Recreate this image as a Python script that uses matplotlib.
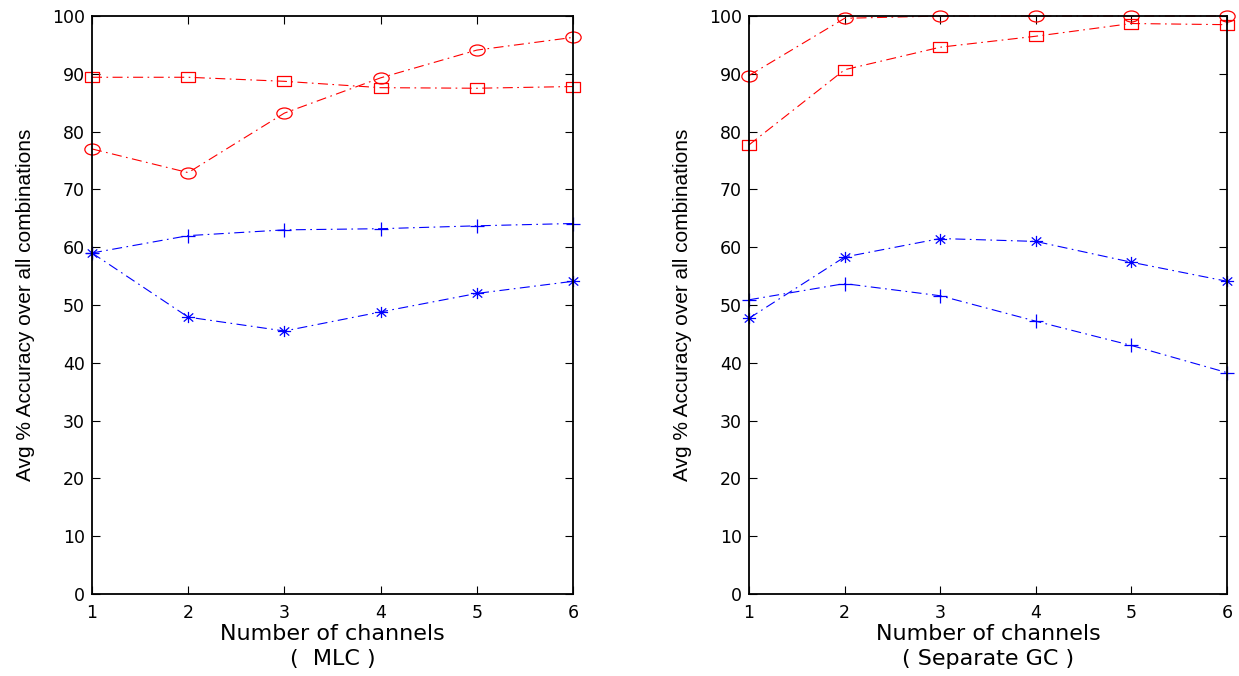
import matplotlib
matplotlib.use("Agg")
import matplotlib.pyplot as plt
from matplotlib.path import Path
import numpy as np

channels = [1, 2, 3, 4, 5, 6]

# Left panel (MLC)
mlc_circle = [77.0, 72.9, 83.2, 89.3, 94.1, 96.3]
mlc_square = [89.4, 89.4, 88.7, 87.6, 87.5, 87.8]
mlc_plus = [59.0, 62.0, 63.0, 63.2, 63.7, 64.1]
mlc_star = [59.0, 47.9, 45.5, 48.8, 52.0, 54.1]

# Right panel (Separate GC)
gc_circle = [89.7, 99.6, 100.0, 100.0, 100.0, 100.0]
gc_square = [77.7, 90.7, 94.6, 96.5, 98.7, 98.5]
gc_star = [47.7, 58.3, 61.5, 61.0, 57.4, 54.1]
gc_plus = [50.9, 53.7, 51.6, 47.2, 43.0, 38.3]

yticks = list(range(0, 101, 10))
ylabel = "Avg % Accuracy over all combinations"
xlabel = "Number of channels"
titles = ["(  MLC )", "( Separate GC )"]

plt.rcParams['font.family'] = ['DejaVu Sans']

# marker shapes (slightly wider than tall, like the reference)
uc = Path.unit_circle()
ellipse = Path(uc.vertices * np.array([1.0, 0.72]), uc.codes)
rect = Path([(-1, -0.7), (1, -0.7), (1, 0.7), (-1, 0.7), (-1, -0.7)],
            [Path.MOVETO, Path.LINETO, Path.LINETO, Path.LINETO, Path.CLOSEPOLY])
ast = Path([(-1, 0), (1, 0), (0, -0.85), (0, 0.85),
            (-0.72, -0.62), (0.72, 0.62), (-0.72, 0.62), (0.72, -0.62)],
           [Path.MOVETO, Path.LINETO] * 4)
plus = Path([(-1, 0), (1, 0), (0, -1), (0, 1)], [Path.MOVETO, Path.LINETO] * 2)

fig = plt.figure(figsize=(12.39, 6.76), dpi=100)
ax1 = fig.add_axes([92/1239, 1-594/676, 481/1239, 578/676])
ax2 = fig.add_axes([749/1239, 1-594/676, 478/1239, 578/676])

ls = (0, (9, 4, 1.5, 4))

def draw(ax, series, caption):
    for y, color, marker, ms in series:
        ax.plot(channels, y, color=color, linestyle=ls, linewidth=0.8,
                marker=marker, markersize=ms, markerfacecolor='none',
                markeredgecolor=color, markeredgewidth=0.9, clip_on=False)
    ax.set_xlim(1, 6)
    ax.set_ylim(0, 100)
    ax.set_xticks(channels)
    ax.set_yticks(yticks)
    ax.tick_params(direction='in', top=True, right=True, labelsize=12.5,
                   length=6, width=0.8)
    ax.tick_params(axis='y', pad=5)
    ax.tick_params(axis='x', pad=7)
    for s in ax.spines.values():
        s.set_linewidth(1.3)
    ax.set_xlabel(xlabel, fontsize=16, labelpad=2)
    ax.set_ylabel(ylabel, fontsize=15, labelpad=12,
                  family=['Liberation Sans', 'DejaVu Sans'])
    ax.text(0.5, -0.113, caption, transform=ax.transAxes, ha='center',
            va='center', fontsize=16)

draw(ax1, [(mlc_circle, 'red', ellipse, 11), (mlc_square, 'red', rect, 9.5),
           (mlc_plus, 'blue', plus, 10), (mlc_star, 'blue', ast, 9.5)],
     titles[0])
draw(ax2, [(gc_circle, 'red', ellipse, 11), (gc_square, 'red', rect, 9.5),
           (gc_star, 'blue', ast, 9.5), (gc_plus, 'blue', plus, 10)],
     titles[1])

fig.savefig("out.png", dpi=100)
